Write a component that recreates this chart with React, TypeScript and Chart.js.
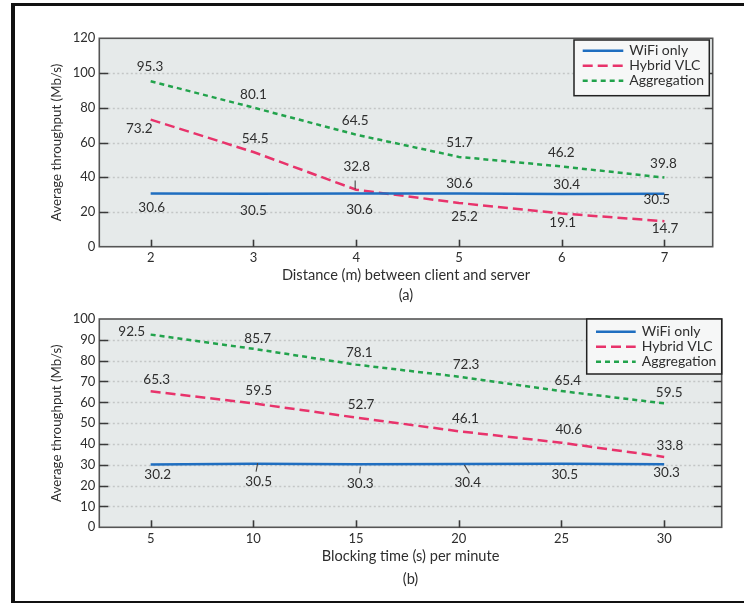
import React, { useEffect, useRef } from "react";
import { Chart, registerables } from "chart.js";

Chart.register(...registerables);

const FONT_FAMILY = "Lato, 'Open Sans', 'DejaVu Sans', sans-serif";
const TEXT_COLOR = "#2e2e2e";
const PLOT_BG = "#e6eaea";
const LEGEND_BG = "#f6f7f7";
const GRID_COLOR = "#c3c6c6";
const FRAME_COLOR = "#555555";

const seriesNames = ["WiFi only", "Hybrid VLC", "Aggregation"];
const seriesColors = ["#1f6ec0", "#e8336b", "#22a34c"];
const seriesDashes: number[][] = [[], [10, 5], [5, 4]];
const yTitle = "Average throughput (Mb/s)";

// ---------- Panel (a) ----------
const distanceValues = [2, 3, 4, 5, 6, 7];
const yTicksA = [0, 20, 40, 60, 80, 100, 120];
const wifiA = [30.6, 30.5, 30.6, 30.6, 30.4, 30.5];
const hybridA = [73.2, 54.5, 32.8, 25.2, 19.1, 14.7];
const aggregationA = [95.3, 80.1, 64.5, 51.7, 46.2, 39.8];
const xTitleA = "Distance (m) between client and server";
const captionA = "(a)";

// ---------- Panel (b) ----------
const blockingValues = [5, 10, 15, 20, 25, 30];
const yTicksB = [0, 10, 20, 30, 40, 50, 60, 70, 80, 90, 100];
const wifiB = [30.2, 30.5, 30.3, 30.4, 30.5, 30.3];
const hybridB = [65.3, 59.5, 52.7, 46.1, 40.6, 33.8];
const aggregationB = [92.5, 85.7, 78.1, 72.3, 65.4, 59.5];
const xTitleB = "Blocking time (s) per minute";
const captionB = "(b)";

// value-label pixel offsets (dx, dy) from each point
const wifiLabelOffA = [[1, 13.6], [0, 17], [3.3, 15.6], [0.6, -10.4], [5, -9], [-7.6, 6]];
const hybridLabelOffA = [[-11.4, 8.8], [1.7, -13.7], [0.6, -22.6], [5.6, 14.2], [1, 9.6], [0.7, 7.3]];
const aggLabelOffA = [[-0.7, -14.3], [0, -13.2], [-1, -13.9], [0.6, -14.3], [-0.4, -13.8], [-1, -13.7]];
const leadersA = [{ series: 1, index: 2, seg: [-1, -9.2, -1, -0.6] }];

const wifiLabelOffB = [[7, 10.5], [5.3, 17.8], [4.3, 19], [9, 18.6], [3.3, 11.1], [2.4, 8]];
const hybridLabelOffB = [[6, -11.4], [5.3, -12.7], [5, -13.3], [6.6, -12.4], [7.3, -13.5], [5.7, -11.3]];
const aggLabelOffB = [[-19, -2.9], [4.3, -10.5], [3.3, -12.4], [7.3, -11.8], [6.3, -10.1], [5, -10.7]];
const leadersB = [
  { series: 0, index: 1, seg: [4.3, -0.6, 2.7, 7.8] },
  { series: 0, index: 2, seg: [4.3, 2.6, 3.6, 9.2] },
  { series: 0, index: 3, seg: [5.6, 0.9, 10.6, 9.2] },
];

type PanelSpec = {
  key: string;
  xValues: number[];
  xMin: number;
  xMax: number;
  yTicks: number[];
  series: number[][];
  labelOffsets: number[][][];
  leaders: { series: number; index: number; seg: number[] }[];
  xTitle: string;
  caption: string;
  canvasHeight: number;
  padding: { left: number; top: number; right: number; bottom: number };
  yAxisWidth: number;
  xAxisHeight: number;
  xTickPadding: number;
  titleLineHeight: string;
  xTitlePadBottom: number;
  legend: { rightInset: number; topInset: number; w: number; h: number; row0: number; rowStep: number; lineX1: number; lineX2: number; textX: number };
};

const panelA: PanelSpec = {
  key: "a",
  xValues: distanceValues,
  xMin: 1.5,
  xMax: 7.47,
  yTicks: yTicksA,
  series: [wifiA, hybridA, aggregationA],
  labelOffsets: [wifiLabelOffA, hybridLabelOffA, aggLabelOffA],
  leaders: leadersA,
  xTitle: xTitleA,
  caption: captionA,
  canvasHeight: 310,
  padding: { left: 0, top: 38.3, right: 31.3, bottom: 0 },
  yAxisWidth: 99.3,
  xAxisHeight: 63.3,
  xTickPadding: 3,
  titleLineHeight: "20px",
  xTitlePadBottom: 4.5,
  legend: { rightInset: 3.4, topInset: 1.7, w: 135.3, h: 55.7, row0: 10.7, rowStep: 15, lineX1: 8.7, lineX2: 49.3, textX: 55.3 },
};

const panelB: PanelSpec = {
  key: "b",
  xValues: blockingValues,
  xMin: 2.5,
  xMax: 32.8,
  yTicks: yTicksB,
  series: [wifiB, hybridB, aggregationB],
  labelOffsets: [wifiLabelOffB, hybridLabelOffB, aggLabelOffB],
  leaders: leadersB,
  xTitle: xTitleB,
  caption: captionB,
  canvasHeight: 303,
  padding: { left: 0, top: 19, right: 22.3, bottom: 0 },
  yAxisWidth: 99.3,
  xAxisHeight: 75.7,
  xTickPadding: 4,
  titleLineHeight: "22.6px",
  xTitlePadBottom: 12.4,
  legend: { rightInset: 0, topInset: 0, w: 135, h: 55, row0: 12.7, rowStep: 15, lineX1: 9.3, lineX2: 49, textX: 55 },
};

function makeDecor(spec: PanelSpec) {
  return {
    id: "decor-" + spec.key,
    beforeDatasetsDraw(chart: any) {
      const { ctx, chartArea: ca } = chart;
      const ys = chart.scales.y;
      ctx.save();
      ctx.fillStyle = PLOT_BG;
      ctx.fillRect(ca.left, ca.top, ca.right - ca.left, ca.bottom - ca.top);
      ctx.strokeStyle = GRID_COLOR;
      ctx.lineWidth = 1.3;
      ctx.setLineDash([2, 2.5]);
      const yMin = spec.yTicks[0];
      const yMax = spec.yTicks[spec.yTicks.length - 1];
      for (const v of spec.yTicks) {
        if (v === yMin || v === yMax) continue;
        const py = Math.round(ys.getPixelForValue(v)) + 0.5;
        ctx.beginPath();
        ctx.moveTo(ca.left, py);
        ctx.lineTo(ca.right, py);
        ctx.stroke();
      }
      ctx.restore();
    },
    afterDatasetsDraw(chart: any) {
      const { ctx, chartArea: ca } = chart;
      const xs = chart.scales.x;
      const ys = chart.scales.y;
      ctx.save();
      // frame
      ctx.setLineDash([]);
      ctx.strokeStyle = FRAME_COLOR;
      ctx.lineWidth = 1.6;
      ctx.strokeRect(ca.left, ca.top, ca.right - ca.left, ca.bottom - ca.top);
      // inward ticks
      ctx.strokeStyle = "#3a3a3a";
      ctx.lineWidth = 1.6;
      const yMin = spec.yTicks[0];
      const yMax = spec.yTicks[spec.yTicks.length - 1];
      for (const v of spec.yTicks) {
        if (v === yMin || v === yMax) continue;
        const py = Math.round(ys.getPixelForValue(v)) + 0.5;
        ctx.beginPath();
        ctx.moveTo(ca.left, py);
        ctx.lineTo(ca.left + 9, py);
        ctx.moveTo(ca.right, py);
        ctx.lineTo(ca.right - 8, py);
        ctx.stroke();
      }
      for (const v of spec.xValues) {
        const px = Math.round(xs.getPixelForValue(v)) + 0.5;
        ctx.beginPath();
        ctx.moveTo(px, ca.bottom);
        ctx.lineTo(px, ca.bottom - 7);
        ctx.stroke();
      }
      // leaders
      ctx.strokeStyle = "#444";
      ctx.lineWidth = 1.1;
      for (const l of spec.leaders) {
        const px = xs.getPixelForValue(spec.xValues[l.index]);
        const py = ys.getPixelForValue(spec.series[l.series][l.index]);
        ctx.beginPath();
        ctx.moveTo(px + l.seg[0], py + l.seg[1]);
        ctx.lineTo(px + l.seg[2], py + l.seg[3]);
        ctx.stroke();
      }
      // value labels
      ctx.fillStyle = TEXT_COLOR;
      ctx.font = `13.5px ${FONT_FAMILY}`;
      ctx.textAlign = "center";
      ctx.textBaseline = "middle";
      spec.series.forEach((vals, s) => {
        vals.forEach((v, i) => {
          const off = spec.labelOffsets[s][i];
          const px = xs.getPixelForValue(spec.xValues[i]) + off[0];
          const py = ys.getPixelForValue(v) + off[1];
          ctx.fillText(v.toFixed(1), px, py);
        });
      });
      // legend
      const lg = spec.legend;
      const bx = ca.right - lg.rightInset - lg.w;
      const by = ca.top + lg.topInset;
      ctx.fillStyle = LEGEND_BG;
      ctx.fillRect(bx, by, lg.w, lg.h);
      ctx.strokeStyle = "#222";
      ctx.lineWidth = 1.5;
      ctx.strokeRect(bx, by, lg.w, lg.h);
      ctx.font = `14px ${FONT_FAMILY}`;
      seriesNames.forEach((name, k) => {
        const ry = by + lg.row0 + k * lg.rowStep;
        ctx.strokeStyle = seriesColors[k];
        ctx.lineWidth = 2.5;
        ctx.setLineDash(seriesDashes[k]);
        ctx.beginPath();
        ctx.moveTo(bx + lg.lineX1, ry);
        ctx.lineTo(bx + lg.lineX2, ry);
        ctx.stroke();
        ctx.setLineDash([]);
        ctx.fillStyle = TEXT_COLOR;
        ctx.textAlign = "left";
        ctx.fillText(name, bx + lg.textX, ry);
      });
      ctx.restore();
    },
  };
}

function buildConfig(spec: PanelSpec): any {
  const tickFont = { family: FONT_FAMILY, size: 13 };
  return {
    type: "line",
    data: {
      datasets: spec.series.map((vals, k) => ({
        label: seriesNames[k],
        data: vals.map((v, i) => ({ x: spec.xValues[i], y: v })),
        borderColor: seriesColors[k],
        backgroundColor: seriesColors[k],
        borderWidth: 2.5,
        borderDash: seriesDashes[k],
        pointRadius: 0,
        fill: false,
        tension: 0,
      })),
    },
    options: {
      responsive: false,
      animation: false,
      devicePixelRatio: 1,
      layout: { padding: spec.padding },
      plugins: { legend: { display: false }, tooltip: { enabled: false } },
      scales: {
        x: {
          type: "linear",
          min: spec.xMin,
          max: spec.xMax,
          afterBuildTicks: (s: any) => {
            s.ticks = spec.xValues.map((v) => ({ value: v }));
          },
          afterFit: (s: any) => {
            s.height = spec.xAxisHeight;
          },
          grid: { display: false, drawTicks: false },
          border: { display: false },
          ticks: {
            font: tickFont,
            color: TEXT_COLOR,
            padding: spec.xTickPadding,
            maxRotation: 0,
            autoSkip: false,
            callback: (v: any) => String(v),
          },
          title: {
            display: true,
            text: [spec.xTitle, spec.caption],
            color: TEXT_COLOR,
            font: { family: FONT_FAMILY, size: 14.6, lineHeight: spec.titleLineHeight },
            padding: { top: 0, bottom: spec.xTitlePadBottom },
          },
        },
        y: {
          type: "linear",
          min: spec.yTicks[0],
          max: spec.yTicks[spec.yTicks.length - 1],
          afterBuildTicks: (s: any) => {
            s.ticks = spec.yTicks.map((v) => ({ value: v }));
          },
          afterFit: (s: any) => {
            s.width = spec.yAxisWidth;
          },
          grid: { display: false, drawTicks: false },
          border: { display: false },
          ticks: {
            font: tickFont,
            color: TEXT_COLOR,
            padding: 4,
            autoSkip: false,
            callback: (v: any) => String(v),
          },
          title: {
            display: true,
            text: yTitle,
            color: TEXT_COLOR,
            font: { family: FONT_FAMILY, size: 13.3, lineHeight: "16px" },
            padding: { top: 49, bottom: 0 },
          },
        },
      },
    },
    plugins: [makeDecor(spec)],
  };
}

function Panel({ spec, top }: { spec: PanelSpec; top: number }) {
  const ref = useRef<HTMLCanvasElement>(null);
  useEffect(() => {
    const chart = new Chart(ref.current as HTMLCanvasElement, buildConfig(spec));
    return () => chart.destroy();
  }, [spec]);
  return (
    <canvas
      ref={ref}
      width={744}
      height={spec.canvasHeight}
      style={{ position: "absolute", left: 0, top, width: 744, height: spec.canvasHeight, display: "block" }}
    />
  );
}

export default function App() {
  return (
    <div
      style={{
        position: "fixed",
        left: 0,
        top: 0,
        width: 744,
        height: 603,
        background: "#ffffff",
        overflow: "hidden",
      }}
    >
      <div
        style={{
          position: "absolute",
          left: 11,
          top: 3,
          width: 780,
          height: 600,
          boxSizing: "border-box",
          borderLeft: "4px solid #111",
          borderTop: "3px solid #111",
          borderBottom: "2px solid #111",
        }}
      />
      <Panel spec={panelA} top={0} />
      <Panel spec={panelB} top={300} />
    </div>
  );
}
